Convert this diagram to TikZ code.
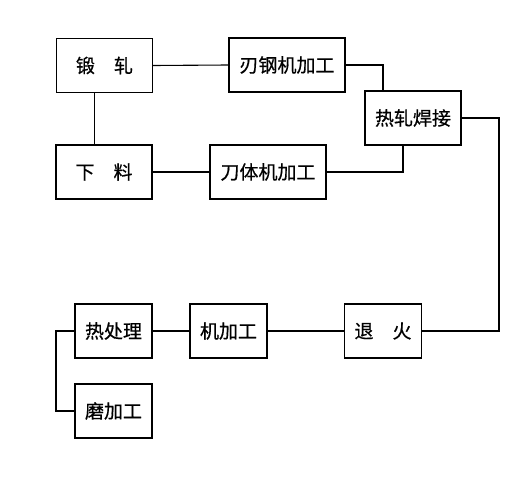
\documentclass[tikz,border=0pt]{standalone}
\usepackage{fontspec}
\newfontfamily\cjk[FakeBold=0.6]{Noto Sans CJK SC}
\begin{document}
\begin{tikzpicture}[x=1pt,y=-1pt,
  box/.style={draw,line width=1.1pt,rectangle,inner sep=0pt,font=\cjk\fontsize{19}{21}\selectfont},
  wide/.style={box,minimum width=116pt,minimum height=54pt},
  mid/.style={box,minimum width=96pt,minimum height=54pt},
  small/.style={box,minimum width=77pt,minimum height=54pt},
  link/.style={line width=1.1pt}]
\useasboundingbox (0,0) rectangle (526,500);
\node[mid]   (dz)  at (104.5,65.5) {锻\hspace{1em}轧};
\node[wide]  (rg)  at (287,65)     {刃钢机加工};
\node[mid]   (rhj) at (413,118)    {热轧焊接};
\node[mid]   (xl)  at (104,172)    {下\hspace{1em}料};
\node[wide]  (dt)  at (268,172)    {刀体机加工};
\node[small] (rcl) at (113.5,331)  {热处理};
\node[small] (jjg) at (228.5,331)  {机加工};
\node[small] (th)  at (383,331)    {退\hspace{1em}火};
\node[small] (mjg) at (113.5,411)  {磨加工};
\coordinate (c1) at (383,0);
\coordinate (c2) at (499,220);
\coordinate (c3) at (56,0);
\draw[link] (dz.east) -- (rg.west);
\draw[link] (rg.east) -| (rhj.north -| c1);
\draw[link] (rhj.east) -| (c2) |- (th.east);
\draw[link] ([xshift=-10pt]rhj.south) |- (dt.east);
\draw[link] (xl.east) -- (dt.west);
\draw[link] ([xshift=-10pt]dz.south) -- ([xshift=-10pt]dz.south |- xl.north);
\draw[link] (rcl.east) -- (jjg.west);
\draw[link] (jjg.east) -- (th.west);
\draw[link] (rcl.west) -- (rcl.west -| c3) |- (mjg.west);
\end{tikzpicture}
\end{document}
